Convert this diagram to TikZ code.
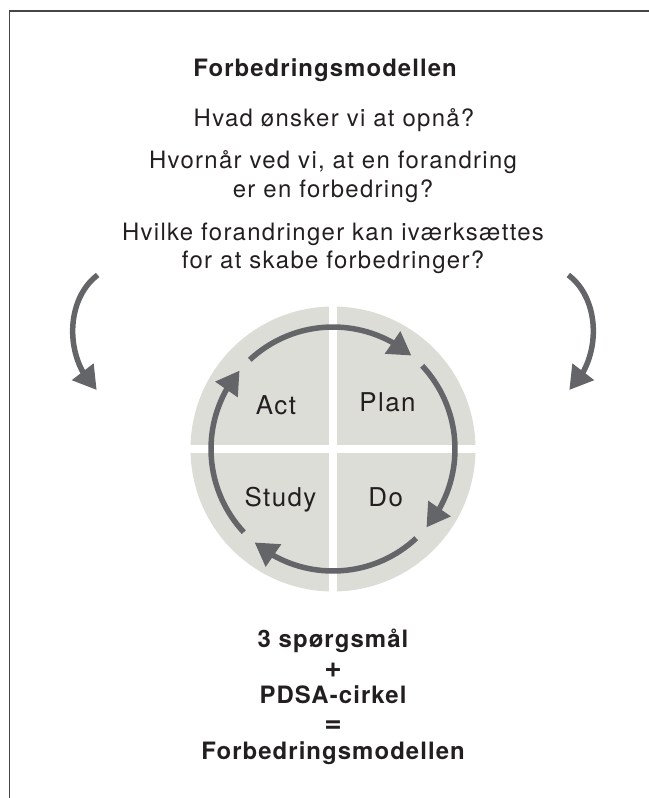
\documentclass[tikz,border=0pt]{standalone}
\usepackage{fontspec}
\setmainfont{TeX Gyre Heros}[LetterSpace=5.5, BoldFeatures={LetterSpace=4.5}]
\usetikzlibrary{arrows.meta,bending,calc}
\definecolor{ringgray}{RGB}{100,101,105}
\definecolor{fillgray}{RGB}{221,221,216}
\definecolor{txt}{RGB}{35,31,32}
\definecolor{framegray}{RGB}{70,70,70}
\begin{document}
\begin{tikzpicture}[x=1bp,y=-1bp,
  qline/.style={font=\fontsize{24}{28}\selectfont, text=txt, anchor=base, inner sep=0pt},
  bline/.style={font=\fontsize{24}{28}\selectfont\bfseries, text=txt, anchor=base, inner sep=0pt},
  opline/.style={font=\fontsize{30}{30}\selectfont\bfseries, text=txt, anchor=base, inner sep=0pt},
  quad/.style={font=\fontsize{26}{30}\selectfont, text=txt, anchor=base, inner sep=0pt},
  cyc/.style={draw=ringgray, line width=5.5bp, -{Triangle[length=23bp,width=26bp,flex]}},
  gap/.style={draw=white, line width=8bp},
  frame/.style={draw=framegray, line width=1.3bp}
]
\useasboundingbox (0,0) rectangle (649,798);
% frame
\coordinate (fbl) at (9.5,798);
\coordinate (ftl) at (9.5,11);
\coordinate (ftr) at (649,11);
\draw[frame] (fbl) -- (ftl) -- (ftr);
% texts
\node[bline] (title) at (325,77) {Forbedringsmodellen};
\node[qline] (q1) at (334,126) {Hvad ønsker vi at opnå?};
\node[qline] (q2a) at (333,168.5) {Hvornår ved vi, at en forandring};
\node[qline] (q2b) at (333,197.5) {er en forbedring?};
\node[qline] (q3a) at (333,240) {Hvilke forandringer kan iværksættes};
\node[qline] (q3b) at (333,268) {for at skabe forbedringer?};
% circle
\coordinate (c) at (333,449);
\fill[fillgray] (c) circle[radius=142.5];
\draw[gap] (333,300) -- (333,598);
\draw[gap] (185,449) -- (482,449);
\node[quad] (act) at (276,414) {Act};
\node[quad] (plan) at (387.5,411.7) {Plan};
\node[quad] (study) at (280.5,506.7) {Study};
\node[quad] (do) at (385.7,506.7) {Do};
% cycle arrows
\coordinate (a1) at ($(c)+(-133:122)$);
\coordinate (a2) at ($(c)+(-43:122)$);
\coordinate (a3) at ($(c)+(47:122)$);
\coordinate (a4) at ($(c)+(137:122)$);
\draw[cyc] (a1) arc[start angle=-133, end angle=-50, radius=122];
\draw[cyc] (a2) arc[start angle=-43, end angle=40, radius=122];
\draw[cyc] (a3) arc[start angle=47, end angle=130, radius=122];
\draw[cyc] (a4) arc[start angle=137, end angle=220, radius=122];
% side arrows
\coordinate (ls) at (97.7,275);
\coordinate (le) at (96.7,390);
\coordinate (rs) at (568.3,275);
\coordinate (re) at (569.3,390);
\draw[cyc] (ls) .. controls (64.5,300) and (64.5,360) .. (le);
\draw[cyc] (rs) .. controls (601.5,300) and (601.5,360) .. (re);
% bottom
\node[bline] (b1) at (333,647) {3 spørgsmål};
\node[opline] (b2) at (333,677.5) {+};
\node[bline] (b3) at (333,703) {PDSA-cirkel};
\node[opline] (b4) at (333,732.5) {=};
\node[bline] (b5) at (333,759) {Forbedringsmodellen};
\end{tikzpicture}
\end{document}
